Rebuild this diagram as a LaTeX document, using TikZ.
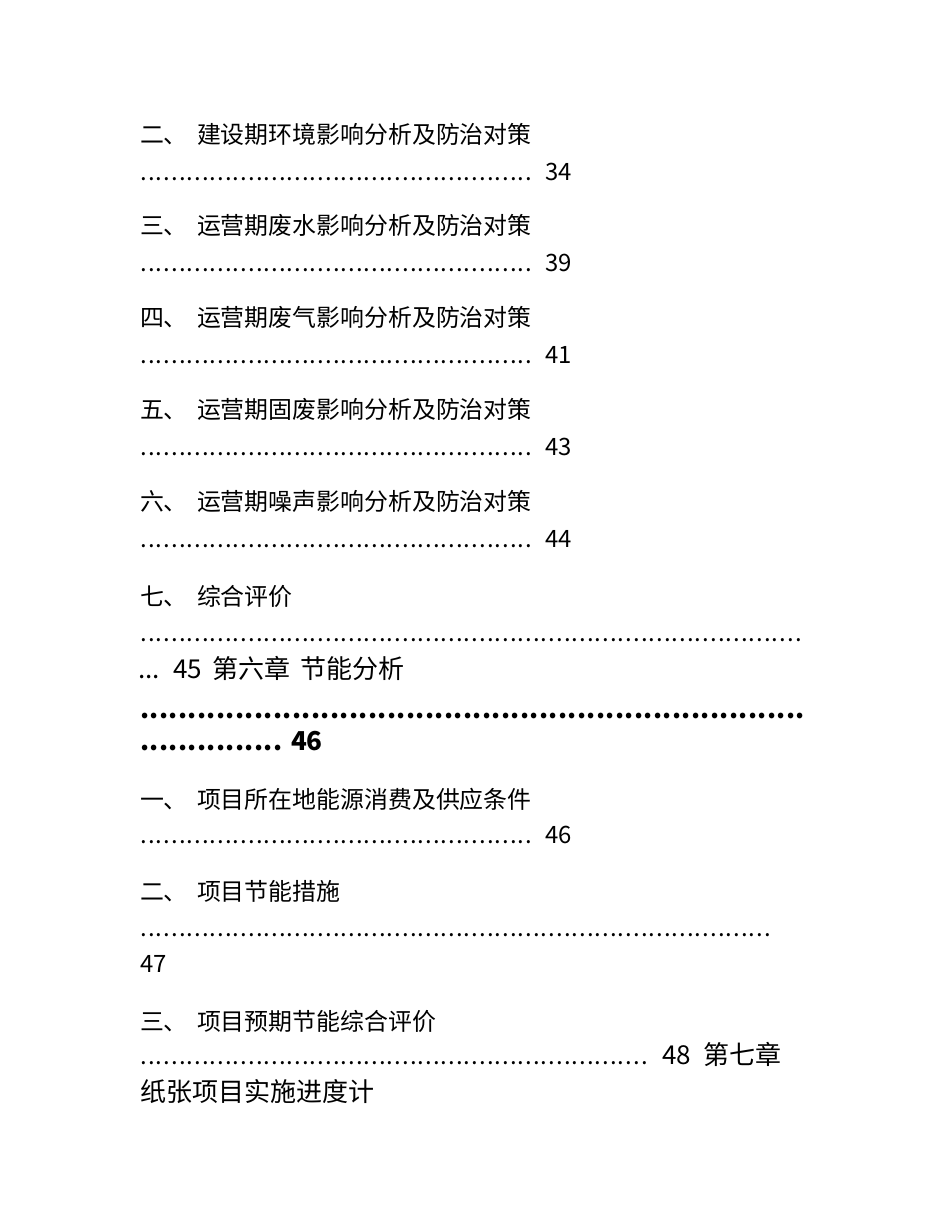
\documentclass[tikz,border=0pt]{standalone}
\usepackage{fontspec}
\setmainfont{Noto Sans CJK SC}
\newlength\pxu
\setlength\pxu{0.025cm}
% dot leader: #1 number of dots, #2 spacing (px)
\newcommand\dotrow[2]{\hbox to \dimexpr#1\dimexpr#2\pxu\relax\relax{\xleaders\hbox to #2\pxu{\hss.\hss}\hfill}}
\begin{document}
\begin{tikzpicture}[x=0.025cm,y=-0.025cm,inner sep=0pt,outer sep=0pt]
	\tikzstyle{toc_style} = [font=\fontsize{17pt}{20pt}\selectfont, anchor=base west]
	\tikzstyle{chap_style} = [font=\fontsize{18.5pt}{22pt}\selectfont, anchor=base west]
	\tikzstyle{bold_style} = [font=\fontsize{18.5pt}{22pt}\selectfont\bfseries, anchor=base west]
	\fill[white] (0,0) rectangle (950,1230);
	\useasboundingbox (0,0) rectangle (950,1230);
	%%%
	\foreach[count=\i] \n/\t/\p in {二/建设期环境影响分析及防治对策/34,三/运营期废水影响分析及防治对策/39,四/运营期废气影响分析及防治对策/41,五/运营期固废影响分析及防治对策/43,六/运营期噪声影响分析及防治对策/44}{
		\path (140,{143+(\i-1)*91.75}) node[toc_style] (num-\i) {\n、};
		\path (197,{143+(\i-1)*91.75}) node[toc_style] (title-\i) {\t};
		\path (140,{180+(\i-1)*91.75}) node[toc_style] (dots-\i) {\dotrow{51}{7.7}};
		\path (545,{180+(\i-1)*91.75}) node[toc_style] (page-\i) {\p};
	}
	%%% 七
	\path (140,605) node[toc_style] (num-7) {七、};
	\path (197,605) node[toc_style] (title-7) {综合评价};
	\path (140,641) node[toc_style] (dots-7) {\dotrow{86}{7.7}};
	\path (138,678) node[chap_style] (dots-7b) {...};
	\path (173,678) node[chap_style] (page-7) {45};
	\path (212,678) node[chap_style] (chap-6) {第六章};
	\path (300,678) node[chap_style] (chap-6t) {节能分析};
	\path (140,718) node[bold_style] (dots-c6) {\dotrow{70}{9.5}};
	\path (140,750) node[bold_style] (dots-c6b) {\dotrow{15}{9.5}};
	\path (291,750) node[bold_style] (page-c6) {46};
	%%% 第六章
	\path (140,808) node[toc_style] (num-8) {一、};
	\path (197,808) node[toc_style] (title-8) {项目所在地能源消费及供应条件};
	\path (140,843) node[toc_style] (dots-8) {\dotrow{51}{7.7}};
	\path (545,843) node[toc_style] (page-8) {46};
	\path (140,900) node[toc_style] (num-9) {二、};
	\path (197,900) node[toc_style] (title-9) {项目节能措施};
	\path (140,936) node[toc_style] (dots-9) {\dotrow{82}{7.7}};
	\path (140,972) node[toc_style] (page-9) {47};
	\path (140,1030) node[toc_style] (num-10) {三、};
	\path (197,1030) node[toc_style] (title-10) {项目预期节能综合评价};
	\path (140,1064) node[toc_style] (dots-10) {\dotrow{66}{7.7}};
	\path (662,1064) node[chap_style] (page-10) {48};
	\path (703,1064) node[chap_style] (chap-7) {第七章};
	\path (140,1101) node[chap_style] (chap-7t) {纸张项目实施进度计};
\end{tikzpicture}
\end{document}
